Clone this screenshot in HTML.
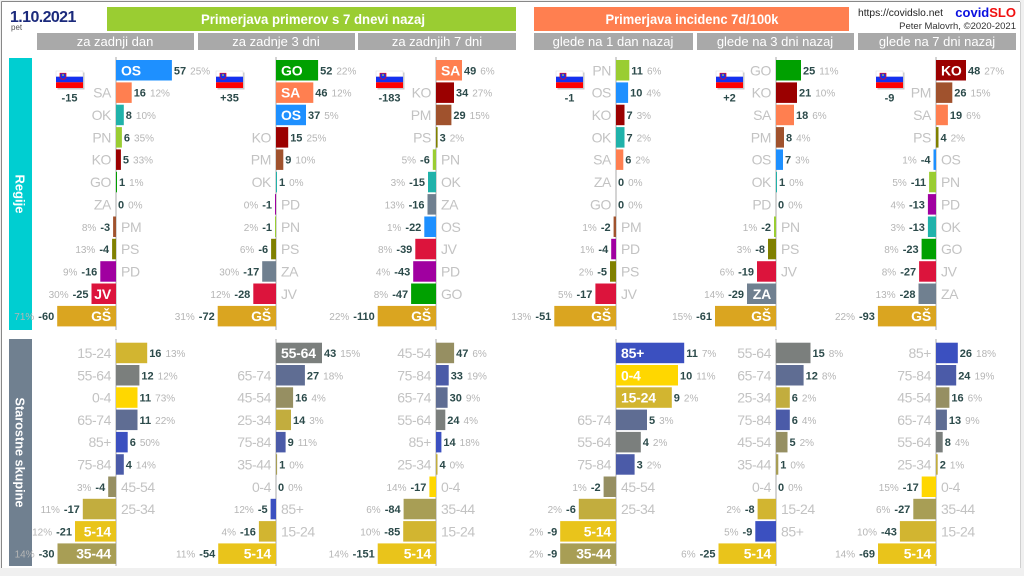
<!DOCTYPE html>
<html><head><meta charset="utf-8">
<style>
html,body{margin:0;padding:0;background:#f0f0f0;}
svg{display:block}
svg text{font-family:"Liberation Sans","DejaVu Sans",sans-serif;}
.l{font-size:14px;fill:#c3c3c3;letter-spacing:-0.4px}
.i{font-size:14px;font-weight:bold;fill:#fff;letter-spacing:-0.2px}
.v{font-size:11px;font-weight:bold;fill:#2b4a4a}
.p{font-size:10px;font-weight:normal;fill:#b5b5b5}
.e{text-anchor:end}
.ax{stroke:#a8a8a8;stroke-width:1}
.hd{font-size:13px;fill:#fff;text-anchor:middle}
</style></head>
<body>
<svg width="1024" height="576" viewBox="0 0 1024 576" xmlns="http://www.w3.org/2000/svg">
<defs>
<g id="fl">
<rect x="1.5" y="1.5" width="27" height="17" fill="#c8c8c8"/>
<rect x="0" y="0" width="27" height="5.7" fill="#fff" stroke="#ddd" stroke-width=".5"/>
<rect x="0" y="5.7" width="27" height="5.6" fill="#1430f0"/>
<rect x="0" y="11.3" width="27" height="5.7" fill="#f00"/>
<path d="M4,2.2 h6 v4.5 q-3,3.2 -6,0 z" fill="#1430f0" stroke="#f00" stroke-width=".7"/>
<circle cx="7" cy="4" r=".8" fill="#ff0"/>
</g>
</defs>
<rect x="0" y="0" width="1024" height="576" fill="#f0f0f0"/>
<rect x="2" y="2" width="1018" height="566" fill="#fff"/>
<line x1="1.5" y1="1.5" x2="1.5" y2="568" stroke="#888"/>
<line x1="1.5" y1="1.5" x2="1020" y2="1.5" stroke="#888"/>
<line x1="1020.5" y1="2" x2="1020.5" y2="568" stroke="#d0d0d0"/>

<!-- header -->
<text x="10" y="22" font-size="16" font-weight="bold" fill="#1b2a7c" letter-spacing="-0.6">1.10.2021</text>
<text x="11" y="30" font-size="8" fill="#555">pet</text>
<rect x="107" y="7" width="409" height="24" fill="#9acd32"/>
<text x="313" y="24" font-size="14" font-weight="bold" fill="#fff" text-anchor="middle" textLength="224" lengthAdjust="spacingAndGlyphs">Primerjava primerov s 7 dnevi nazaj</text>
<rect x="534" y="7" width="315" height="24" fill="#ff7f50"/>
<text x="692" y="24" font-size="14" font-weight="bold" fill="#fff" text-anchor="middle" textLength="173" lengthAdjust="spacingAndGlyphs">Primerjava incidenc 7d/100k</text>
<rect x="37" y="33" width="157" height="17" fill="#a9a9a9"/>
<rect x="198" y="33" width="157" height="17" fill="#a9a9a9"/>
<rect x="358" y="33" width="158" height="17" fill="#a9a9a9"/>
<rect x="534" y="33" width="159" height="17" fill="#a9a9a9"/>
<rect x="697" y="33" width="157" height="17" fill="#a9a9a9"/>
<rect x="858" y="33" width="158" height="17" fill="#a9a9a9"/>
<text class="hd" x="115" y="46">za zadnji dan</text>
<text class="hd" x="276" y="46">za zadnje 3 dni</text>
<text class="hd" x="437" y="46">za zadnjih 7 dni</text>
<text class="hd" x="613" y="46">glede na 1 dan nazaj</text>
<text class="hd" x="775" y="46">glede na 3 dni nazaj</text>
<text class="hd" x="937" y="46">glede na 7 dni nazaj</text>
<text x="858" y="16" font-size="10" fill="#222" textLength="85" lengthAdjust="spacingAndGlyphs">https://covidslo.net</text>
<text x="1016" y="17" font-size="13" font-weight="bold" text-anchor="end"><tspan fill="#0a10e0">covid</tspan><tspan fill="#f01010">SLO</tspan></text>
<text x="1016" y="29" font-size="9.5" fill="#333" text-anchor="end">Peter Malovrh, ©2020-2021</text>

<!-- sidebars -->
<rect x="9" y="58" width="23" height="272" fill="#00ced1"/>
<text transform="translate(15.5,194) rotate(90)" font-size="13" font-weight="bold" fill="#fff" text-anchor="middle">Regije</text>
<rect x="9" y="339" width="23" height="227" fill="#708090"/>
<text transform="translate(15.5,452.5) rotate(90)" font-size="13" font-weight="bold" fill="#fff" text-anchor="middle" textLength="110" lengthAdjust="spacingAndGlyphs">Starostne skupine</text>

<!-- axes -->
<g class="ax">
<line x1="116" y1="57" x2="116" y2="330"/><line x1="116" y1="339" x2="116" y2="566"/>
<line x1="276" y1="57" x2="276" y2="330"/><line x1="276" y1="339" x2="276" y2="566"/>
<line x1="436" y1="57" x2="436" y2="330"/><line x1="436" y1="339" x2="436" y2="566"/>
<line x1="616" y1="57" x2="616" y2="330"/><line x1="616" y1="339" x2="616" y2="566"/>
<line x1="776" y1="57" x2="776" y2="330"/><line x1="776" y1="339" x2="776" y2="566"/>
<line x1="936" y1="57" x2="936" y2="330"/><line x1="936" y1="339" x2="936" y2="566"/>
</g>

<!-- ===== TOP PANEL 1 ===== -->
<g transform="translate(116,0)">
<use href="#fl" x="-60" y="71"/><text class="v" x="-46.5" y="101.5" text-anchor="middle">-15</text>
<rect x="0" y="60" width="55.9" height="20.5" fill="#1e90ff"/><text class="i" x="5" y="75.3">OS</text><text class="v" x="57.9" y="74.3">57<tspan class="p" dx="4">25%</tspan></text>
<rect x="0" y="82.4" width="15.7" height="20.5" fill="#ff7f50"/><text class="l e" x="-5" y="97.7">SA</text><text class="v" x="17.7" y="96.7">16<tspan class="p" dx="4">12%</tspan></text>
<rect x="0" y="104.7" width="7.8" height="20.5" fill="#20b2aa"/><text class="l e" x="-5" y="120">OK</text><text class="v" x="9.8" y="119">8<tspan class="p" dx="4">10%</tspan></text>
<rect x="0" y="127.1" width="5.9" height="20.5" fill="#9acd32"/><text class="l e" x="-5" y="142.4">PN</text><text class="v" x="7.9" y="141.4">6<tspan class="p" dx="4">35%</tspan></text>
<rect x="0" y="149.4" width="4.9" height="20.5" fill="#9b0000"/><text class="l e" x="-5" y="164.7">KO</text><text class="v" x="6.9" y="163.7">5<tspan class="p" dx="4">33%</tspan></text>
<rect x="0" y="171.8" width="1" height="20.5" fill="#00a000"/><text class="l e" x="-5" y="187.1">GO</text><text class="v" x="3" y="186.1">1<tspan class="p" dx="4">1%</tspan></text>
<text class="l e" x="-5" y="209.4">ZA</text><text class="v" x="2" y="208.4">0<tspan class="p" dx="4">0%</tspan></text>
<rect x="-2.9" y="216.5" width="2.9" height="20.5" fill="#a0522d"/><text class="l" x="5" y="231.8">PM</text><text class="v e" x="-5.9" y="230.8"><tspan class="p">8%</tspan><tspan dx="4">-3</tspan></text>
<rect x="-3.9" y="238.8" width="3.9" height="20.5" fill="#808000"/><text class="l" x="5" y="254.1">PS</text><text class="v e" x="-6.9" y="253.1"><tspan class="p">13%</tspan><tspan dx="4">-4</tspan></text>
<rect x="-15.7" y="261.2" width="15.7" height="20.5" fill="#a000a0"/><text class="l" x="5" y="276.5">PD</text><text class="v e" x="-18.7" y="275.5"><tspan class="p">9%</tspan><tspan dx="4">-16</tspan></text>
<rect x="-24.5" y="283.5" width="24.5" height="20.5" fill="#dc143c"/><text class="i e" x="-5" y="298.8">JV</text><text class="v e" x="-27.5" y="297.8"><tspan class="p">30%</tspan><tspan dx="4">-25</tspan></text>
<rect x="-58.8" y="305.9" width="58.8" height="20.5" fill="#daa520"/><text class="i e" x="-5" y="321.2">GŠ</text><text class="v e" x="-61.8" y="320.2"><tspan class="p">71%</tspan><tspan dx="4">-60</tspan></text>
</g>

<!-- ===== TOP PANEL 2 ===== -->
<g transform="translate(276,0)">
<use href="#fl" x="-60" y="71"/><text class="v" x="-46.5" y="101.5" text-anchor="middle">+35</text>
<rect x="0" y="60" width="42.1" height="20.5" fill="#00a000"/><text class="i" x="5" y="75.3">GO</text><text class="v" x="44.1" y="74.3">52<tspan class="p" dx="4">22%</tspan></text>
<rect x="0" y="82.4" width="37.3" height="20.5" fill="#ff7f50"/><text class="i" x="5" y="97.7">SA</text><text class="v" x="39.3" y="96.7">46<tspan class="p" dx="4">12%</tspan></text>
<rect x="0" y="104.7" width="30" height="20.5" fill="#1e90ff"/><text class="i" x="5" y="120">OS</text><text class="v" x="32" y="119">37<tspan class="p" dx="4">5%</tspan></text>
<rect x="0" y="127.1" width="12.2" height="20.5" fill="#9b0000"/><text class="l e" x="-5" y="142.4">KO</text><text class="v" x="14.2" y="141.4">15<tspan class="p" dx="4">25%</tspan></text>
<rect x="0" y="149.4" width="7.3" height="20.5" fill="#a0522d"/><text class="l e" x="-5" y="164.7">PM</text><text class="v" x="9.3" y="163.7">9<tspan class="p" dx="4">10%</tspan></text>
<rect x="0" y="171.8" width="1" height="20.5" fill="#20b2aa"/><text class="l e" x="-5" y="187.1">OK</text><text class="v" x="3" y="186.1">1<tspan class="p" dx="4">0%</tspan></text>
<rect x="-1" y="194.1" width="1" height="20.5" fill="#a000a0"/><text class="l" x="5" y="209.4">PD</text><text class="v e" x="-4" y="208.4"><tspan class="p">0%</tspan><tspan dx="4">-1</tspan></text>
<rect x="-1" y="216.5" width="1" height="20.5" fill="#9acd32"/><text class="l" x="5" y="231.8">PN</text><text class="v e" x="-4" y="230.8"><tspan class="p">2%</tspan><tspan dx="4">-1</tspan></text>
<rect x="-4.9" y="238.8" width="4.9" height="20.5" fill="#808000"/><text class="l" x="5" y="254.1">PS</text><text class="v e" x="-7.9" y="253.1"><tspan class="p">6%</tspan><tspan dx="4">-6</tspan></text>
<rect x="-13.8" y="261.2" width="13.8" height="20.5" fill="#708090"/><text class="l" x="5" y="276.5">ZA</text><text class="v e" x="-16.8" y="275.5"><tspan class="p">30%</tspan><tspan dx="4">-17</tspan></text>
<rect x="-22.7" y="283.5" width="22.7" height="20.5" fill="#dc143c"/><text class="l" x="5" y="298.8">JV</text><text class="v e" x="-25.7" y="297.8"><tspan class="p">12%</tspan><tspan dx="4">-28</tspan></text>
<rect x="-58.3" y="305.9" width="58.3" height="20.5" fill="#daa520"/><text class="i e" x="-5" y="321.2">GŠ</text><text class="v e" x="-61.3" y="320.2"><tspan class="p">31%</tspan><tspan dx="4">-72</tspan></text>
</g>

<!-- ===== TOP PANEL 3 ===== -->
<g transform="translate(436,0)">
<use href="#fl" x="-60" y="71"/><text class="v" x="-46.5" y="101.5" text-anchor="middle">-183</text>
<rect x="0" y="60" width="26" height="20.5" fill="#ff7f50"/><text class="i" x="5" y="75.3">SA</text><text class="v" x="28" y="74.3">49<tspan class="p" dx="4">6%</tspan></text>
<rect x="0" y="82.4" width="18" height="20.5" fill="#9b0000"/><text class="l e" x="-5" y="97.7">KO</text><text class="v" x="20" y="96.7">34<tspan class="p" dx="4">27%</tspan></text>
<rect x="0" y="104.7" width="15.4" height="20.5" fill="#a0522d"/><text class="l e" x="-5" y="120">PM</text><text class="v" x="17.4" y="119">29<tspan class="p" dx="4">15%</tspan></text>
<rect x="0" y="127.1" width="1.6" height="20.5" fill="#808000"/><text class="l e" x="-5" y="142.4">PS</text><text class="v" x="3.6" y="141.4">3<tspan class="p" dx="4">2%</tspan></text>
<rect x="-3.2" y="149.4" width="3.2" height="20.5" fill="#9acd32"/><text class="l" x="5" y="164.7">PN</text><text class="v e" x="-6.2" y="163.7"><tspan class="p">5%</tspan><tspan dx="4">-6</tspan></text>
<rect x="-8" y="171.8" width="8" height="20.5" fill="#20b2aa"/><text class="l" x="5" y="187.1">OK</text><text class="v e" x="-11" y="186.1"><tspan class="p">3%</tspan><tspan dx="4">-15</tspan></text>
<rect x="-8.5" y="194.1" width="8.5" height="20.5" fill="#708090"/><text class="l" x="5" y="209.4">ZA</text><text class="v e" x="-11.5" y="208.4"><tspan class="p">13%</tspan><tspan dx="4">-16</tspan></text>
<rect x="-11.7" y="216.5" width="11.7" height="20.5" fill="#1e90ff"/><text class="l" x="5" y="231.8">OS</text><text class="v e" x="-14.7" y="230.8"><tspan class="p">1%</tspan><tspan dx="4">-22</tspan></text>
<rect x="-20.7" y="238.8" width="20.7" height="20.5" fill="#dc143c"/><text class="l" x="5" y="254.1">JV</text><text class="v e" x="-23.7" y="253.1"><tspan class="p">8%</tspan><tspan dx="4">-39</tspan></text>
<rect x="-22.8" y="261.2" width="22.8" height="20.5" fill="#a000a0"/><text class="l" x="5" y="276.5">PD</text><text class="v e" x="-25.8" y="275.5"><tspan class="p">4%</tspan><tspan dx="4">-43</tspan></text>
<rect x="-24.9" y="283.5" width="24.9" height="20.5" fill="#00a000"/><text class="l" x="5" y="298.8">GO</text><text class="v e" x="-27.9" y="297.8"><tspan class="p">8%</tspan><tspan dx="4">-47</tspan></text>
<rect x="-58.3" y="305.9" width="58.3" height="20.5" fill="#daa520"/><text class="i e" x="-5" y="321.2">GŠ</text><text class="v e" x="-61.3" y="320.2"><tspan class="p">22%</tspan><tspan dx="4">-110</tspan></text>
</g>

<!-- ===== TOP PANEL 4 ===== -->
<g transform="translate(616,0)">
<use href="#fl" x="-60" y="71"/><text class="v" x="-46.5" y="101.5" text-anchor="middle">-1</text>
<rect x="0" y="60" width="13.3" height="20.5" fill="#9acd32"/><text class="l e" x="-5" y="75.3">PN</text><text class="v" x="15.3" y="74.3">11<tspan class="p" dx="4">6%</tspan></text>
<rect x="0" y="82.4" width="12.1" height="20.5" fill="#1e90ff"/><text class="l e" x="-5" y="97.7">OS</text><text class="v" x="14.1" y="96.7">10<tspan class="p" dx="4">4%</tspan></text>
<rect x="0" y="104.7" width="8.5" height="20.5" fill="#9b0000"/><text class="l e" x="-5" y="120">KO</text><text class="v" x="10.5" y="119">7<tspan class="p" dx="4">3%</tspan></text>
<rect x="0" y="127.1" width="8.5" height="20.5" fill="#20b2aa"/><text class="l e" x="-5" y="142.4">OK</text><text class="v" x="10.5" y="141.4">7<tspan class="p" dx="4">2%</tspan></text>
<rect x="0" y="149.4" width="7.3" height="20.5" fill="#ff7f50"/><text class="l e" x="-5" y="164.7">SA</text><text class="v" x="9.3" y="163.7">6<tspan class="p" dx="4">2%</tspan></text>
<text class="l e" x="-5" y="187.1">ZA</text><text class="v" x="2" y="186.1">0<tspan class="p" dx="4">0%</tspan></text>
<text class="l e" x="-5" y="209.4">GO</text><text class="v" x="2" y="208.4">0<tspan class="p" dx="4">0%</tspan></text>
<rect x="-2.4" y="216.5" width="2.4" height="20.5" fill="#a0522d"/><text class="l" x="5" y="231.8">PM</text><text class="v e" x="-5.4" y="230.8"><tspan class="p">1%</tspan><tspan dx="4">-2</tspan></text>
<rect x="-4.8" y="238.8" width="4.8" height="20.5" fill="#a000a0"/><text class="l" x="5" y="254.1">PD</text><text class="v e" x="-7.8" y="253.1"><tspan class="p">1%</tspan><tspan dx="4">-4</tspan></text>
<rect x="-6" y="261.2" width="6" height="20.5" fill="#808000"/><text class="l" x="5" y="276.5">PS</text><text class="v e" x="-9" y="275.5"><tspan class="p">2%</tspan><tspan dx="4">-5</tspan></text>
<rect x="-20.6" y="283.5" width="20.6" height="20.5" fill="#dc143c"/><text class="l" x="5" y="298.8">JV</text><text class="v e" x="-23.6" y="297.8"><tspan class="p">5%</tspan><tspan dx="4">-17</tspan></text>
<rect x="-61.7" y="305.9" width="61.7" height="20.5" fill="#daa520"/><text class="i e" x="-5" y="321.2">GŠ</text><text class="v e" x="-64.7" y="320.2"><tspan class="p">13%</tspan><tspan dx="4">-51</tspan></text>
</g>

<!-- ===== TOP PANEL 5 ===== -->
<g transform="translate(776,0)">
<use href="#fl" x="-60" y="71"/><text class="v" x="-46.5" y="101.5" text-anchor="middle">+2</text>
<rect x="0" y="60" width="25" height="20.5" fill="#00a000"/><text class="l e" x="-5" y="75.3">GO</text><text class="v" x="27" y="74.3">25<tspan class="p" dx="4">11%</tspan></text>
<rect x="0" y="82.4" width="21" height="20.5" fill="#9b0000"/><text class="l e" x="-5" y="97.7">KO</text><text class="v" x="23" y="96.7">21<tspan class="p" dx="4">10%</tspan></text>
<rect x="0" y="104.7" width="18" height="20.5" fill="#ff7f50"/><text class="l e" x="-5" y="120">SA</text><text class="v" x="20" y="119">18<tspan class="p" dx="4">6%</tspan></text>
<rect x="0" y="127.1" width="8" height="20.5" fill="#a0522d"/><text class="l e" x="-5" y="142.4">PM</text><text class="v" x="10" y="141.4">8<tspan class="p" dx="4">4%</tspan></text>
<rect x="0" y="149.4" width="7" height="20.5" fill="#1e90ff"/><text class="l e" x="-5" y="164.7">OS</text><text class="v" x="9" y="163.7">7<tspan class="p" dx="4">3%</tspan></text>
<rect x="0" y="171.8" width="1" height="20.5" fill="#20b2aa"/><text class="l e" x="-5" y="187.1">OK</text><text class="v" x="3" y="186.1">1<tspan class="p" dx="4">0%</tspan></text>
<text class="l e" x="-5" y="209.4">PD</text><text class="v" x="2" y="208.4">0<tspan class="p" dx="4">0%</tspan></text>
<rect x="-2" y="216.5" width="2" height="20.5" fill="#9acd32"/><text class="l" x="5" y="231.8">PN</text><text class="v e" x="-5" y="230.8"><tspan class="p">1%</tspan><tspan dx="4">-2</tspan></text>
<rect x="-8" y="238.8" width="8" height="20.5" fill="#808000"/><text class="l" x="5" y="254.1">PS</text><text class="v e" x="-11" y="253.1"><tspan class="p">3%</tspan><tspan dx="4">-8</tspan></text>
<rect x="-19" y="261.2" width="19" height="20.5" fill="#dc143c"/><text class="l" x="5" y="276.5">JV</text><text class="v e" x="-22" y="275.5"><tspan class="p">6%</tspan><tspan dx="4">-19</tspan></text>
<rect x="-29" y="283.5" width="29" height="20.5" fill="#708090"/><text class="i e" x="-5" y="298.8">ZA</text><text class="v e" x="-32" y="297.8"><tspan class="p">14%</tspan><tspan dx="4">-29</tspan></text>
<rect x="-61" y="305.9" width="61" height="20.5" fill="#daa520"/><text class="i e" x="-5" y="321.2">GŠ</text><text class="v e" x="-64" y="320.2"><tspan class="p">15%</tspan><tspan dx="4">-61</tspan></text>
</g>

<!-- ===== TOP PANEL 6 ===== -->
<g transform="translate(936,0)">
<use href="#fl" x="-60" y="71"/><text class="v" x="-46.5" y="101.5" text-anchor="middle">-9</text>
<rect x="0" y="60" width="30" height="20.5" fill="#9b0000"/><text class="i" x="5" y="75.3">KO</text><text class="v" x="32" y="74.3">48<tspan class="p" dx="4">27%</tspan></text>
<rect x="0" y="82.4" width="16.3" height="20.5" fill="#a0522d"/><text class="l e" x="-5" y="97.7">PM</text><text class="v" x="18.3" y="96.7">26<tspan class="p" dx="4">15%</tspan></text>
<rect x="0" y="104.7" width="11.9" height="20.5" fill="#ff7f50"/><text class="l e" x="-5" y="120">SA</text><text class="v" x="13.9" y="119">19<tspan class="p" dx="4">6%</tspan></text>
<rect x="0" y="127.1" width="2.5" height="20.5" fill="#808000"/><text class="l e" x="-5" y="142.4">PS</text><text class="v" x="4.5" y="141.4">4<tspan class="p" dx="4">2%</tspan></text>
<rect x="-2.5" y="149.4" width="2.5" height="20.5" fill="#1e90ff"/><text class="l" x="5" y="164.7">OS</text><text class="v e" x="-5.5" y="163.7"><tspan class="p">1%</tspan><tspan dx="4">-4</tspan></text>
<rect x="-6.9" y="171.8" width="6.9" height="20.5" fill="#9acd32"/><text class="l" x="5" y="187.1">PN</text><text class="v e" x="-9.9" y="186.1"><tspan class="p">5%</tspan><tspan dx="4">-11</tspan></text>
<rect x="-8.1" y="194.1" width="8.1" height="20.5" fill="#a000a0"/><text class="l" x="5" y="209.4">PD</text><text class="v e" x="-11.1" y="208.4"><tspan class="p">4%</tspan><tspan dx="4">-13</tspan></text>
<rect x="-8.1" y="216.5" width="8.1" height="20.5" fill="#20b2aa"/><text class="l" x="5" y="231.8">OK</text><text class="v e" x="-11.1" y="230.8"><tspan class="p">3%</tspan><tspan dx="4">-13</tspan></text>
<rect x="-14.4" y="238.8" width="14.4" height="20.5" fill="#00a000"/><text class="l" x="5" y="254.1">GO</text><text class="v e" x="-17.4" y="253.1"><tspan class="p">8%</tspan><tspan dx="4">-23</tspan></text>
<rect x="-16.9" y="261.2" width="16.9" height="20.5" fill="#dc143c"/><text class="l" x="5" y="276.5">JV</text><text class="v e" x="-19.9" y="275.5"><tspan class="p">8%</tspan><tspan dx="4">-27</tspan></text>
<rect x="-17.5" y="283.5" width="17.5" height="20.5" fill="#708090"/><text class="l" x="5" y="298.8">ZA</text><text class="v e" x="-20.5" y="297.8"><tspan class="p">13%</tspan><tspan dx="4">-28</tspan></text>
<rect x="-58.1" y="305.9" width="58.1" height="20.5" fill="#daa520"/><text class="i e" x="-5" y="321.2">GŠ</text><text class="v e" x="-61.1" y="320.2"><tspan class="p">22%</tspan><tspan dx="4">-93</tspan></text>
</g>

<!-- ===== BOTTOM PANEL 1 ===== -->
<g transform="translate(116,0)">
<rect x="0" y="342.7" width="31.2" height="20.5" fill="#d2b530"/><text class="l e" x="-5" y="358">15-24</text><text class="v" x="33.2" y="357">16<tspan class="p" dx="4">13%</tspan></text>
<rect x="0" y="365" width="23.4" height="20.5" fill="#7b7f7d"/><text class="l e" x="-5" y="380.3">55-64</text><text class="v" x="25.4" y="379.3">12<tspan class="p" dx="4">12%</tspan></text>
<rect x="0" y="387.3" width="21.5" height="20.5" fill="#ffd700"/><text class="l e" x="-5" y="402.6">0-4</text><text class="v" x="23.5" y="401.6">11<tspan class="p" dx="4">73%</tspan></text>
<rect x="0" y="409.6" width="21.5" height="20.5" fill="#5f6d93"/><text class="l e" x="-5" y="424.9">65-74</text><text class="v" x="23.5" y="423.9">11<tspan class="p" dx="4">22%</tspan></text>
<rect x="0" y="431.9" width="11.7" height="20.5" fill="#3b50c0"/><text class="l e" x="-5" y="447.2">85+</text><text class="v" x="13.7" y="446.2">6<tspan class="p" dx="4">50%</tspan></text>
<rect x="0" y="454.2" width="7.8" height="20.5" fill="#4b5ba8"/><text class="l e" x="-5" y="469.5">75-84</text><text class="v" x="9.8" y="468.5">4<tspan class="p" dx="4">14%</tspan></text>
<rect x="-7.8" y="476.5" width="7.8" height="20.5" fill="#968f62"/><text class="l" x="5" y="491.8">45-54</text><text class="v e" x="-10.8" y="490.8"><tspan class="p">3%</tspan><tspan dx="4">-4</tspan></text>
<rect x="-33.2" y="498.8" width="33.2" height="20.5" fill="#c2ad3e"/><text class="l" x="5" y="514.1">25-34</text><text class="v e" x="-36.2" y="513.1"><tspan class="p">11%</tspan><tspan dx="4">-17</tspan></text>
<rect x="-41" y="521.1" width="41" height="20.5" fill="#e9c41b"/><text class="i e" x="-5" y="536.4">5-14</text><text class="v e" x="-44" y="535.4"><tspan class="p">12%</tspan><tspan dx="4">-21</tspan></text>
<rect x="-58.5" y="543.4" width="58.5" height="20.5" fill="#a89e55"/><text class="i e" x="-5" y="558.7">35-44</text><text class="v e" x="-61.5" y="557.7"><tspan class="p">14%</tspan><tspan dx="4">-30</tspan></text>
</g>

<!-- ===== BOTTOM PANEL 2 ===== -->
<g transform="translate(276,0)">
<rect x="0" y="342.7" width="46" height="20.5" fill="#7b7f7d"/><text class="i" x="5" y="358">55-64</text><text class="v" x="48" y="357">43<tspan class="p" dx="4">15%</tspan></text>
<rect x="0" y="365" width="28.9" height="20.5" fill="#5f6d93"/><text class="l e" x="-5" y="380.3">65-74</text><text class="v" x="30.9" y="379.3">27<tspan class="p" dx="4">18%</tspan></text>
<rect x="0" y="387.3" width="17.1" height="20.5" fill="#968f62"/><text class="l e" x="-5" y="402.6">45-54</text><text class="v" x="19.1" y="401.6">16<tspan class="p" dx="4">4%</tspan></text>
<rect x="0" y="409.6" width="15" height="20.5" fill="#c2ad3e"/><text class="l e" x="-5" y="424.9">25-34</text><text class="v" x="17" y="423.9">14<tspan class="p" dx="4">3%</tspan></text>
<rect x="0" y="431.9" width="9.6" height="20.5" fill="#4b5ba8"/><text class="l e" x="-5" y="447.2">75-84</text><text class="v" x="11.6" y="446.2">9<tspan class="p" dx="4">11%</tspan></text>
<rect x="0" y="454.2" width="1.1" height="20.5" fill="#a89e55"/><text class="l e" x="-5" y="469.5">35-44</text><text class="v" x="3.1" y="468.5">1<tspan class="p" dx="4">0%</tspan></text>
<text class="l e" x="-5" y="491.8">0-4</text><text class="v" x="2" y="490.8">0<tspan class="p" dx="4">0%</tspan></text>
<rect x="-5.4" y="498.8" width="5.4" height="20.5" fill="#3b50c0"/><text class="l" x="5" y="514.1">85+</text><text class="v e" x="-8.4" y="513.1"><tspan class="p">12%</tspan><tspan dx="4">-5</tspan></text>
<rect x="-17.1" y="521.1" width="17.1" height="20.5" fill="#d2b530"/><text class="l" x="5" y="536.4">15-24</text><text class="v e" x="-20.1" y="535.4"><tspan class="p">4%</tspan><tspan dx="4">-16</tspan></text>
<rect x="-57.8" y="543.4" width="57.8" height="20.5" fill="#e9c41b"/><text class="i e" x="-5" y="558.7">5-14</text><text class="v e" x="-60.8" y="557.7"><tspan class="p">11%</tspan><tspan dx="4">-54</tspan></text>
</g>

<!-- ===== BOTTOM PANEL 3 ===== -->
<g transform="translate(436,0)">
<rect x="0" y="342.7" width="18.1" height="20.5" fill="#968f62"/><text class="l e" x="-5" y="358">45-54</text><text class="v" x="20.1" y="357">47<tspan class="p" dx="4">6%</tspan></text>
<rect x="0" y="365" width="12.7" height="20.5" fill="#4b5ba8"/><text class="l e" x="-5" y="380.3">75-84</text><text class="v" x="14.7" y="379.3">33<tspan class="p" dx="4">19%</tspan></text>
<rect x="0" y="387.3" width="11.6" height="20.5" fill="#5f6d93"/><text class="l e" x="-5" y="402.6">65-74</text><text class="v" x="13.6" y="401.6">30<tspan class="p" dx="4">9%</tspan></text>
<rect x="0" y="409.6" width="9.3" height="20.5" fill="#7b7f7d"/><text class="l e" x="-5" y="424.9">55-64</text><text class="v" x="11.3" y="423.9">24<tspan class="p" dx="4">4%</tspan></text>
<rect x="0" y="431.9" width="5.4" height="20.5" fill="#3b50c0"/><text class="l e" x="-5" y="447.2">85+</text><text class="v" x="7.4" y="446.2">14<tspan class="p" dx="4">18%</tspan></text>
<rect x="0" y="454.2" width="1.5" height="20.5" fill="#c2ad3e"/><text class="l e" x="-5" y="469.5">25-34</text><text class="v" x="3.5" y="468.5">4<tspan class="p" dx="4">0%</tspan></text>
<rect x="-6.6" y="476.5" width="6.6" height="20.5" fill="#ffd700"/><text class="l" x="5" y="491.8">0-4</text><text class="v e" x="-9.6" y="490.8"><tspan class="p">14%</tspan><tspan dx="4">-17</tspan></text>
<rect x="-32.4" y="498.8" width="32.4" height="20.5" fill="#a89e55"/><text class="l" x="5" y="514.1">35-44</text><text class="v e" x="-35.4" y="513.1"><tspan class="p">6%</tspan><tspan dx="4">-84</tspan></text>
<rect x="-32.8" y="521.1" width="32.8" height="20.5" fill="#d2b530"/><text class="l" x="5" y="536.4">15-24</text><text class="v e" x="-35.8" y="535.4"><tspan class="p">10%</tspan><tspan dx="4">-85</tspan></text>
<rect x="-58.3" y="543.4" width="58.3" height="20.5" fill="#e9c41b"/><text class="i e" x="-5" y="558.7">5-14</text><text class="v e" x="-61.3" y="557.7"><tspan class="p">14%</tspan><tspan dx="4">-151</tspan></text>
</g>

<!-- ===== BOTTOM PANEL 4 ===== -->
<g transform="translate(616,0)">
<rect x="0" y="342.7" width="68.2" height="20.5" fill="#3b50c0"/><text class="i" x="5" y="358">85+</text><text class="v" x="70.2" y="357">11<tspan class="p" dx="4">7%</tspan></text>
<rect x="0" y="365" width="62" height="20.5" fill="#ffd700"/><text class="i" x="5" y="380.3">0-4</text><text class="v" x="64" y="379.3">10<tspan class="p" dx="4">11%</tspan></text>
<rect x="0" y="387.3" width="55.8" height="20.5" fill="#d2b530"/><text class="i" x="5" y="402.6">15-24</text><text class="v" x="57.8" y="401.6">9<tspan class="p" dx="4">2%</tspan></text>
<rect x="0" y="409.6" width="31" height="20.5" fill="#5f6d93"/><text class="l e" x="-5" y="424.9">65-74</text><text class="v" x="33" y="423.9">5<tspan class="p" dx="4">3%</tspan></text>
<rect x="0" y="431.9" width="24.8" height="20.5" fill="#7b7f7d"/><text class="l e" x="-5" y="447.2">55-64</text><text class="v" x="26.8" y="446.2">4<tspan class="p" dx="4">2%</tspan></text>
<rect x="0" y="454.2" width="18.6" height="20.5" fill="#4b5ba8"/><text class="l e" x="-5" y="469.5">75-84</text><text class="v" x="20.6" y="468.5">3<tspan class="p" dx="4">2%</tspan></text>
<rect x="-12.4" y="476.5" width="12.4" height="20.5" fill="#968f62"/><text class="l" x="5" y="491.8">45-54</text><text class="v e" x="-15.4" y="490.8"><tspan class="p">1%</tspan><tspan dx="4">-2</tspan></text>
<rect x="-37.2" y="498.8" width="37.2" height="20.5" fill="#c2ad3e"/><text class="l" x="5" y="514.1">25-34</text><text class="v e" x="-40.2" y="513.1"><tspan class="p">2%</tspan><tspan dx="4">-6</tspan></text>
<rect x="-55.8" y="521.1" width="55.8" height="20.5" fill="#e9c41b"/><text class="i e" x="-5" y="536.4">5-14</text><text class="v e" x="-58.8" y="535.4"><tspan class="p">2%</tspan><tspan dx="4">-9</tspan></text>
<rect x="-55.8" y="543.4" width="55.8" height="20.5" fill="#a89e55"/><text class="i e" x="-5" y="558.7">35-44</text><text class="v e" x="-58.8" y="557.7"><tspan class="p">2%</tspan><tspan dx="4">-9</tspan></text>
</g>

<!-- ===== BOTTOM PANEL 5 ===== -->
<g transform="translate(776,0)">
<rect x="0" y="342.7" width="34.5" height="20.5" fill="#7b7f7d"/><text class="l e" x="-5" y="358">55-64</text><text class="v" x="36.5" y="357">15<tspan class="p" dx="4">8%</tspan></text>
<rect x="0" y="365" width="27.6" height="20.5" fill="#5f6d93"/><text class="l e" x="-5" y="380.3">65-74</text><text class="v" x="29.6" y="379.3">12<tspan class="p" dx="4">8%</tspan></text>
<rect x="0" y="387.3" width="13.8" height="20.5" fill="#c2ad3e"/><text class="l e" x="-5" y="402.6">25-34</text><text class="v" x="15.8" y="401.6">6<tspan class="p" dx="4">2%</tspan></text>
<rect x="0" y="409.6" width="13.8" height="20.5" fill="#4b5ba8"/><text class="l e" x="-5" y="424.9">75-84</text><text class="v" x="15.8" y="423.9">6<tspan class="p" dx="4">4%</tspan></text>
<rect x="0" y="431.9" width="11.5" height="20.5" fill="#968f62"/><text class="l e" x="-5" y="447.2">45-54</text><text class="v" x="13.5" y="446.2">5<tspan class="p" dx="4">2%</tspan></text>
<rect x="0" y="454.2" width="2.3" height="20.5" fill="#a89e55"/><text class="l e" x="-5" y="469.5">35-44</text><text class="v" x="4.3" y="468.5">1<tspan class="p" dx="4">0%</tspan></text>
<text class="l e" x="-5" y="491.8">0-4</text><text class="v" x="2" y="490.8">0<tspan class="p" dx="4">0%</tspan></text>
<rect x="-18.4" y="498.8" width="18.4" height="20.5" fill="#d2b530"/><text class="l" x="5" y="514.1">15-24</text><text class="v e" x="-21.4" y="513.1"><tspan class="p">2%</tspan><tspan dx="4">-8</tspan></text>
<rect x="-20.7" y="521.1" width="20.7" height="20.5" fill="#3b50c0"/><text class="l" x="5" y="536.4">85+</text><text class="v e" x="-23.7" y="535.4"><tspan class="p">5%</tspan><tspan dx="4">-9</tspan></text>
<rect x="-57.5" y="543.4" width="57.5" height="20.5" fill="#e9c41b"/><text class="i e" x="-5" y="558.7">5-14</text><text class="v e" x="-60.5" y="557.7"><tspan class="p">6%</tspan><tspan dx="4">-25</tspan></text>
</g>

<!-- ===== BOTTOM PANEL 6 ===== -->
<g transform="translate(936,0)">
<rect x="0" y="342.7" width="21.8" height="20.5" fill="#3b50c0"/><text class="l e" x="-5" y="358">85+</text><text class="v" x="23.8" y="357">26<tspan class="p" dx="4">18%</tspan></text>
<rect x="0" y="365" width="20.2" height="20.5" fill="#4b5ba8"/><text class="l e" x="-5" y="380.3">75-84</text><text class="v" x="22.2" y="379.3">24<tspan class="p" dx="4">19%</tspan></text>
<rect x="0" y="387.3" width="13.4" height="20.5" fill="#968f62"/><text class="l e" x="-5" y="402.6">45-54</text><text class="v" x="15.4" y="401.6">16<tspan class="p" dx="4">6%</tspan></text>
<rect x="0" y="409.6" width="10.9" height="20.5" fill="#5f6d93"/><text class="l e" x="-5" y="424.9">65-74</text><text class="v" x="12.9" y="423.9">13<tspan class="p" dx="4">9%</tspan></text>
<rect x="0" y="431.9" width="6.7" height="20.5" fill="#7b7f7d"/><text class="l e" x="-5" y="447.2">55-64</text><text class="v" x="8.7" y="446.2">8<tspan class="p" dx="4">4%</tspan></text>
<rect x="0" y="454.2" width="1.7" height="20.5" fill="#c2ad3e"/><text class="l e" x="-5" y="469.5">25-34</text><text class="v" x="3.7" y="468.5">2<tspan class="p" dx="4">1%</tspan></text>
<rect x="-14.3" y="476.5" width="14.3" height="20.5" fill="#ffd700"/><text class="l" x="5" y="491.8">0-4</text><text class="v e" x="-17.3" y="490.8"><tspan class="p">15%</tspan><tspan dx="4">-17</tspan></text>
<rect x="-22.7" y="498.8" width="22.7" height="20.5" fill="#a89e55"/><text class="l" x="5" y="514.1">35-44</text><text class="v e" x="-25.7" y="513.1"><tspan class="p">6%</tspan><tspan dx="4">-27</tspan></text>
<rect x="-36.1" y="521.1" width="36.1" height="20.5" fill="#d2b530"/><text class="l" x="5" y="536.4">15-24</text><text class="v e" x="-39.1" y="535.4"><tspan class="p">10%</tspan><tspan dx="4">-43</tspan></text>
<rect x="-58" y="543.4" width="58" height="20.5" fill="#e9c41b"/><text class="i e" x="-5" y="558.7">5-14</text><text class="v e" x="-61" y="557.7"><tspan class="p">14%</tspan><tspan dx="4">-69</tspan></text>
</g>
</svg>
</body></html>
